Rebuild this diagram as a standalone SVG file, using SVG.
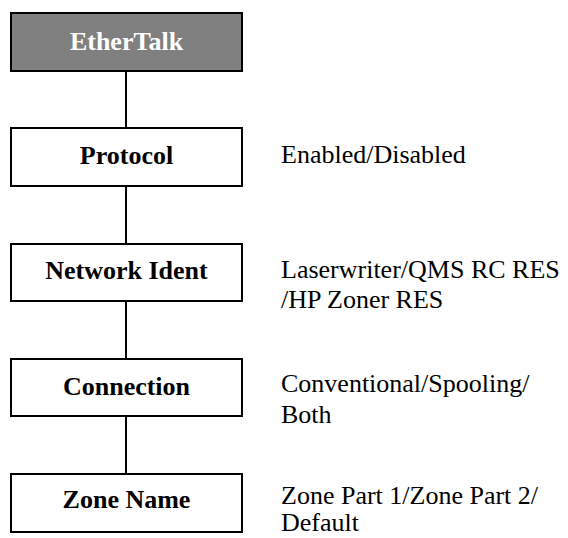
<svg xmlns="http://www.w3.org/2000/svg" width="568" height="538" viewBox="0 0 568 538">
<style>
.box{fill:#ffffff;stroke:#000000;stroke-width:2}
.head{fill:#808080;stroke:#000000;stroke-width:2}
.lbl{font-family:"Liberation Serif","Times New Roman",serif;font-size:26px;font-weight:bold;text-anchor:middle;fill:#000000}
.hlbl{fill:#ffffff}
.val{font-family:"Liberation Serif","Times New Roman",serif;font-size:26px;fill:#000000}
.conn{stroke:#000000;stroke-width:2;fill:none}
</style>
<rect width="568" height="538" fill="#ffffff"/>
<g id="connectors">
<line class="conn" x1="126" y1="71" x2="126" y2="128"/>
<line class="conn" x1="126" y1="186" x2="126" y2="244"/>
<line class="conn" x1="126" y1="301" x2="126" y2="359"/>
<line class="conn" x1="126" y1="416" x2="126" y2="474"/>
</g>
<g id="ethertalk">
<rect class="head" x="11" y="13" width="231" height="58"/>
<text class="lbl hlbl" x="126.5" y="50">EtherTalk</text>
</g>
<g id="protocol">
<rect class="box" x="11" y="128" width="231" height="58"/>
<text class="lbl" x="126.5" y="164">Protocol</text>
<text class="val" x="281" y="163">Enabled/Disabled</text>
</g>
<g id="network-ident">
<rect class="box" x="11" y="244" width="231" height="57"/>
<text class="lbl" x="126.5" y="279">Network Ident</text>
<text class="val" x="281" y="278">Laserwriter/QMS RC RES</text>
<text class="val" x="281" y="308">/HP Zoner RES</text>
</g>
<g id="connection">
<rect class="box" x="11" y="359" width="231" height="57"/>
<text class="lbl" x="126.5" y="395">Connection</text>
<text class="val" x="281" y="392">Conventional/Spooling/</text>
<text class="val" x="281" y="423">Both</text>
</g>
<g id="zone-name">
<rect class="box" x="11" y="474" width="231" height="58"/>
<text class="lbl" x="126.5" y="508">Zone Name</text>
<text class="val" x="281" y="504">Zone Part 1/Zone Part 2/</text>
<text class="val" x="281" y="531">Default</text>
</g>
</svg>
